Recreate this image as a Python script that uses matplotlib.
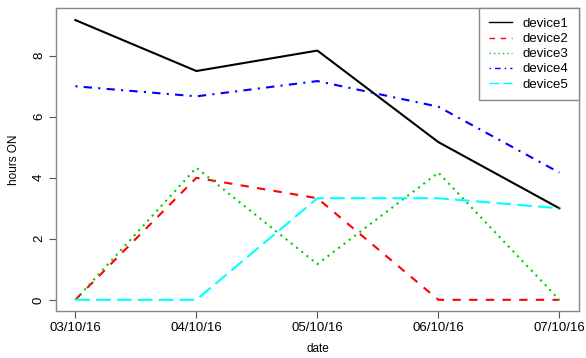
import matplotlib
matplotlib.use("Agg")
import matplotlib.pyplot as plt
from matplotlib.lines import Line2D

# data
dates = ["03/10/16", "04/10/16", "05/10/16", "06/10/16", "07/10/16"]
device1 = [9.17, 7.5, 8.17, 5.17, 3.0]
device2 = [0.0, 4.0, 3.33, 0.0, 0.0]
device3 = [0.0, 4.33, 1.17, 4.17, 0.0]
device4 = [7.0, 6.67, 7.17, 6.33, 4.17]
device5 = [0.0, 0.0, 3.33, 3.33, 3.0]

series = [device1, device2, device3, device4, device5]
names = ["device1", "device2", "device3", "device4", "device5"]
colors = ["black", "#ff0000", "#00cc00", "#0000ff", "#00ffff"]
# R-like lty 1..5
dashes = [None, (4, 4), (1, 2.2), (1, 3, 4, 3), (7, 3)]

plt.rcParams["font.family"] = ["Liberation Sans", "DejaVu Sans"]

fig = plt.figure(figsize=(5.86, 3.58), dpi=100)
ax = fig.add_axes([0.0956, 0.131, 0.892, 0.847])

x = list(range(len(dates)))
for vals, col, d in zip(series, colors, dashes):
    line, = ax.plot(x, vals, color=col, lw=1.5)
    if d is not None:
        line.set_dashes(d)

ax.set_xlim(-0.16, 4.16)
ax.set_ylim(-0.37, 9.57)
ax.set_xticks(x)
ax.set_xticklabels(dates, fontsize=9.5)
ax.set_yticks([0, 2, 4, 6, 8])
ax.set_yticklabels(["0", "2", "4", "6", "8"], rotation=90, va="center", fontsize=9.5)
ax.tick_params(direction="out", length=5, width=0.8, color="#555555", pad=3)
for s in ax.spines.values():
    s.set_color("#888888")
    s.set_linewidth(1)
ax.set_xlabel("date", fontsize=8.5, labelpad=6)
ax.set_ylabel("hours ON", fontsize=8.5, labelpad=9)

handles = []
for col, d in zip(colors, dashes):
    h = Line2D([0], [0], color=col, lw=1)
    if d is not None:
        h.set_dashes(d)
    handles.append(h)
leg = ax.legend(handles, names, loc="upper right", fontsize=9.5, fancybox=False,
                framealpha=1, edgecolor="#888888", borderaxespad=0,
                handlelength=1.75, labelspacing=0.22, borderpad=0.75, handletextpad=0.8)
leg.get_frame().set_linewidth(1)

fig.savefig("out.png", dpi=100)
